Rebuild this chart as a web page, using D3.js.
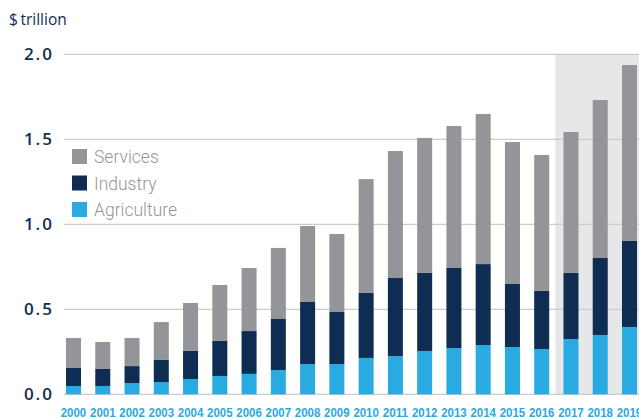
<!DOCTYPE html>
<html>
<head>
<meta charset="utf-8">
<script src="https://cdn.jsdelivr.net/npm/d3@7"></script>
<style>
  html, body { margin: 0; padding: 0; background: #fff; }
  svg { display: block; }
</style>
</head>
<body>
<svg id="chart" width="639" height="419"></svg>
<script>
const years = ["2000","2001","2002","2003","2004","2005","2006","2007","2008","2009",
               "2010","2011","2012","2013","2014","2015","2016","2017","2018","2019"];
const agriculture = [0.049,0.049,0.066,0.072,0.090,0.108,0.120,0.143,0.178,0.178,
                     0.214,0.225,0.255,0.272,0.290,0.278,0.266,0.325,0.349,0.396];
const industry    = [0.106,0.100,0.100,0.130,0.165,0.206,0.252,0.300,0.365,0.306,
                     0.382,0.459,0.459,0.471,0.476,0.371,0.342,0.389,0.453,0.506];
const services    = [0.176,0.159,0.165,0.223,0.282,0.329,0.371,0.418,0.447,0.459,
                     0.670,0.747,0.794,0.835,0.883,0.835,0.800,0.829,0.929,1.035];
const yTicks = [0, 0.5, 1.0, 1.5, 2.0];
const forecastYears = ["2017","2018","2019"];
const seriesNames = ["Agriculture","Industry","Services"];
const legendOrder = ["Services","Industry","Agriculture"];

const colors = { Agriculture: "#29abe2", Industry: "#0f2d52", Services: "#939598" };

const svg = d3.select("#chart");

const x = d3.scaleBand().domain(years).range([66, 637]).paddingInner(0.487).paddingOuter(0);
const y = d3.scaleLinear().domain([0, 2]).range([394.3, 54.3]);

const table = years.map((yr, i) => ({ year: yr, Agriculture: agriculture[i], Industry: industry[i], Services: services[i] }));
const stacked = d3.stack().keys(seriesNames)(table);

// forecast shading
const gap = x.step() - x.bandwidth();
const shadeX = x(forecastYears[0]) - gap / 2 - 1;
svg.append("rect")
  .attr("x", shadeX).attr("y", y(2))
  .attr("width", 639 - shadeX).attr("height", y(0) - y(2))
  .attr("fill", "#e6e7e9");

// gridlines
svg.append("g").selectAll("line").data(yTicks).join("line")
  .attr("x1", 64).attr("x2", 639)
  .attr("y1", d => y(d)).attr("y2", d => y(d))
  .attr("stroke", "#cbcbcb").attr("stroke-width", 1.3);

// y labels
svg.append("g").selectAll("text").data(yTicks).join("text")
  .attr("x", 54).attr("y", d => y(d))
  .attr("dy", "0.36em")
  .attr("text-anchor", "end")
  .attr("fill", "#0f2d52")
  .style("font-family", "'Open Sans', 'DejaVu Sans', sans-serif")
  .style("font-weight", "600")
  .style("font-size", "17px")
  .style("letter-spacing", "2px")
  .text(d => d.toFixed(1));

// unit label
svg.append("text")
  .attr("x", 9).attr("y", 25)
  .attr("fill", "#0f2d52")
  .style("font-family", "'Open Sans', 'DejaVu Sans', sans-serif")
  .style("font-size", "15.5px")
  .text("$\u2009trillion");

// bars
svg.append("g").selectAll("g").data(stacked).join("g")
  .attr("fill", d => colors[d.key])
  .selectAll("rect").data(d => d).join("rect")
  .attr("x", d => x(d.data.year))
  .attr("width", x.bandwidth())
  .attr("y", d => y(d[1]))
  .attr("height", d => y(d[0]) - y(d[1]));

// x labels
svg.append("g").selectAll("text").data(years).join("text")
  .attr("x", d => x(d) + x.bandwidth() / 2)
  .attr("y", 416.5)
  .attr("text-anchor", "middle")
  .attr("fill", "#29a9e1")
  .attr("textLength", 25.5)
  .attr("lengthAdjust", "spacingAndGlyphs")
  .style("font-family", "'Liberation Sans', Arial, sans-serif")
  .style("font-weight", "bold")
  .style("font-size", "13.5px")
  .text(d => d);

// legend
const lg = svg.append("g").selectAll("g").data(legendOrder).join("g")
  .attr("transform", (d, i) => `translate(72, ${149 + i * 26.5})`);
lg.append("rect").attr("width", 15).attr("height", 15).attr("fill", d => colors[d]);
lg.append("text")
  .attr("x", 22).attr("y", 14)
  .attr("fill", "#939598")
  .style("font-family", "Roboto, 'Liberation Sans', sans-serif")
  .style("font-weight", "300")
  .style("font-size", "17.5px")
  .text(d => d);
</script>
</body>
</html>
